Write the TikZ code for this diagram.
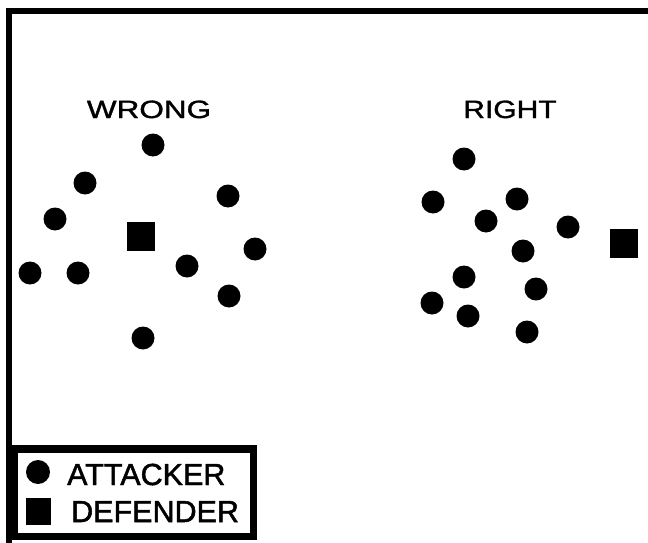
\documentclass[tikz,border=0pt]{standalone}
\usepackage{fontspec}
\setmainfont{Liberation Sans}
\newfontfamily\titlefont[FakeBold=1.2]{Liberation Sans}
\newfontfamily\legfont[FakeBold=1.6]{Liberation Sans}
\begin{document}
\begin{tikzpicture}[x=1pt,y=-1pt,
  attacker/.style={circle,fill=black,inner sep=0pt,minimum size=23pt},
  defender/.style={rectangle,fill=black,inner sep=0pt,minimum width=28pt,minimum height=29pt},
  title/.style={font=\titlefont\fontsize{25}{25}\selectfont,anchor=base,inner sep=0pt},
  legtext/.style={font=\legfont\fontsize{30.5}{30.5}\selectfont,anchor=base west,inner sep=0pt}]
\useasboundingbox[fill=white] (0,0) rectangle (648,543);
% frame
\fill[black] (6,8) rectangle (648,14);
\fill[black] (6,8) rectangle (12,543);
% titles
\node[title] (wrong) at (149,118) {\scalebox{1.26}[1]{WRONG}};
\node[title] (right) at (510,118) {\scalebox{1.2}[1]{RIGHT}};
% wrong formation
\node[attacker] (w1) at (153,145) {};
\node[attacker] (w2) at (85,183) {};
\node[attacker] (w3) at (55,219) {};
\node[attacker] (w4) at (30,273) {};
\node[attacker] (w5) at (78,273) {};
\node[attacker] (w6) at (228,196) {};
\node[attacker] (w7) at (255,249) {};
\node[attacker] (w8) at (187,266) {};
\node[attacker] (w9) at (229,296) {};
\node[attacker] (w10) at (143,338) {};
\node[defender] (wd) at (140.5,236.5) {};
% right formation
\node[attacker] (r1) at (464,159) {};
\node[attacker] (r2) at (433,202) {};
\node[attacker] (r3) at (517,199) {};
\node[attacker] (r4) at (486,221) {};
\node[attacker] (r5) at (568,227) {};
\node[attacker] (r6) at (523,251) {};
\node[attacker] (r7) at (464,277) {};
\node[attacker] (r8) at (536,289) {};
\node[attacker] (r9) at (432,303) {};
\node[attacker] (r10) at (468,316) {};
\node[attacker] (r11) at (527,332) {};
\node[defender] (rd) at (623.5,243) {};
% legend
\draw[line width=7.5pt] (13.75,448.75) rectangle (253.25,536.25);
\node[attacker,minimum size=24pt] (la) at (38,472) {};
\node[defender,minimum width=25pt,minimum height=27pt] (ld) at (38.5,511.5) {};
\node[legtext] (lat) at (67,485) {ATTACKER};
\node[legtext] (ldt) at (71,522) {DEFENDER};
\end{tikzpicture}
\end{document}
